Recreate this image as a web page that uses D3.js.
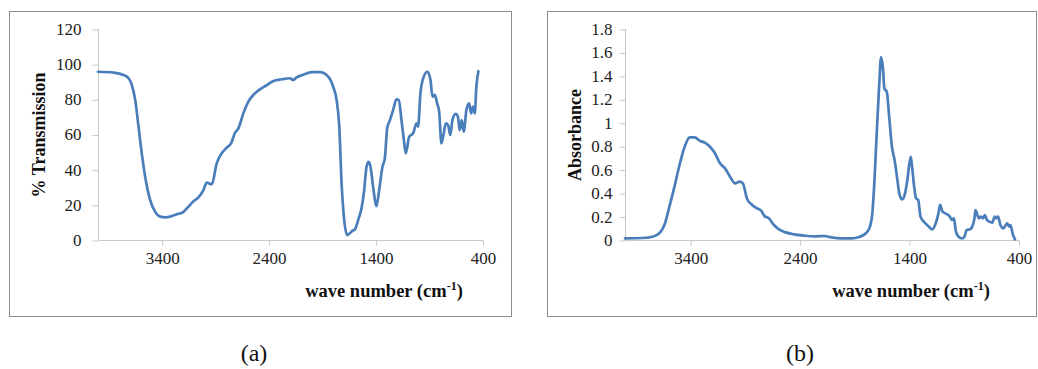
<!DOCTYPE html>
<html>
<head>
<meta charset="utf-8">
<script src="https://cdn.jsdelivr.net/npm/d3@7"></script>
<style>
  body { margin: 0; background: #fff; }
  svg { display: block; }
</style>
</head>
<body>
<div id="chart"></div>
<script>
/* Two FTIR spectra side by side: (a) % transmission, (b) absorbance */

// wave numbers (cm-1) and values
const waveA = [4000, 3854, 3761, 3714, 3683, 3652, 3621, 3590, 3559, 3512, 3465, 3419, 3372, 3310, 3263,
    3201, 3154, 3107, 3061, 3014, 2983, 2936, 2890, 2843, 2796, 2756, 2718, 2687, 2641, 2594, 2547, 2485,
    2423, 2360, 2283, 2205, 2174, 2143, 2080, 2003, 1925, 1847, 1800, 1769, 1744, 1722, 1701, 1670, 1645,
    1620, 1598, 1567, 1536, 1511, 1489, 1470, 1452, 1427, 1396, 1371, 1340, 1318, 1296, 1271, 1240, 1209,
    1187, 1162, 1140, 1122, 1090, 1053, 1022, 1007, 985, 954, 920, 891, 873, 851, 829, 810, 789, 767, 748,
    727, 705, 686, 655, 634, 618, 599, 580, 555, 530, 511, 493, 477, 462, 443];
const transmission = [95.7, 95.2, 93.8, 92, 88, 79.6, 64.5, 49, 36, 22.7, 16, 13.3, 12.9, 13.6, 14.6,
    16, 19, 22, 24.3, 28.4, 32.6, 31.7, 43.6, 49.3, 52.5, 55, 61, 63.5, 72, 78.7, 82.5, 85.7,
    88, 90.4, 91.4, 92, 91, 92.5, 94, 95.5, 95.5, 92.9, 87, 79.6, 64.5, 32, 13.3, 2.8, 3.8,
    5.3, 6, 11.4, 18, 28.4, 41.7, 44.5, 41.7, 30, 19.3, 28.4, 41.7, 46.4, 63.5, 68, 74, 80,
    79.6, 68, 57, 49.3, 58.8, 60.7, 66.4, 64.5, 83.4, 92.9, 95.7, 91, 81.5, 82.5, 77.7, 73, 55, 60.7, 66.4,
    65.4, 59.7, 68.2, 71.7, 70, 62.5, 68.2, 61.6, 74, 77.7, 72, 75.8, 72, 87.2, 96];

const waveB = [4000, 3840, 3748, 3686, 3640, 3594, 3548, 3502, 3455, 3409, 3363, 3317, 3271, 3224, 3178,
    3132, 3086, 3040, 2993, 2953, 2923, 2886, 2840, 2793, 2756, 2726, 2686, 2639, 2593, 2532, 2455, 2362,
    2270, 2177, 2116, 2023, 1931, 1854, 1793, 1762, 1740, 1722, 1700, 1678, 1660, 1645, 1629, 1608, 1586,
    1561, 1537, 1515, 1494, 1469, 1445, 1420, 1401, 1389, 1377, 1358, 1340, 1321, 1300, 1269, 1229, 1192,
    1161, 1136, 1121, 1099, 1062, 1032, 1013, 995, 976, 952, 921, 899, 878, 847, 822, 807, 798, 785, 767,
    748, 730, 711, 693, 668, 644, 622, 607, 591, 570, 545, 527, 508, 490, 477, 459, 437];
const absorbance = [0.014, 0.017, 0.028, 0.057, 0.128, 0.284, 0.455, 0.64, 0.796, 0.876, 0.876, 0.847, 0.83, 0.796, 0.74,
    0.654, 0.611, 0.54, 0.483, 0.498, 0.483, 0.355, 0.3, 0.27, 0.25, 0.205, 0.185, 0.128, 0.091, 0.065, 0.048, 0.037,
    0.031, 0.034, 0.023, 0.014, 0.014, 0.028, 0.063, 0.114, 0.227, 0.483, 0.91, 1.31, 1.56, 1.48, 1.29, 1.265, 1.05,
    0.796, 0.682, 0.54, 0.398, 0.347, 0.384, 0.512, 0.654, 0.71, 0.625, 0.455, 0.355, 0.341, 0.199, 0.156, 0.119, 0.091,
    0.142, 0.227, 0.3, 0.242, 0.222, 0.199, 0.171, 0.185, 0.071, 0.028, 0.014, 0.028, 0.085, 0.091, 0.128, 0.185, 0.256, 0.227, 0.185,
    0.199, 0.185, 0.213, 0.171, 0.156, 0.148, 0.199, 0.185, 0.199, 0.128, 0.1, 0.119, 0.142, 0.114, 0.128, 0.057, 0.006];

const xTicks = [3400, 2400, 1400, 400];
const yTicksA = [0, 20, 40, 60, 80, 100, 120];
const yTicksB = [0, 0.2, 0.4, 0.6, 0.8, 1, 1.2, 1.4, 1.6, 1.8];

const width = 1038, height = 369;
const blue = "#4a7ebb";
const serif = "Liberation Serif";

let svg = d3.select("#chart")
    .append("svg")
    .attr("width", width)
    .attr("height", height);

function panel(opt) {
    let g = svg.append("g");

    // outer frame
    g.append("rect")
        .attr("x", opt.frame[0] + 0.5)
        .attr("y", opt.frame[1] + 0.5)
        .attr("width", opt.frame[2])
        .attr("height", opt.frame[3])
        .attr("fill", "none")
        .attr("stroke", "#8c8c8c");

    let x = d3.scaleLinear()
        .domain([4000, 400])
        .range([opt.left, opt.right]);

    let y = d3.scaleLinear()
        .domain([0, opt.yMax])
        .range([240, 29]);

    // y axis
    let ya = g.append("g")
        .attr("transform", `translate(${opt.left + 0.5},0)`)
        .attr("font-family", serif)
        .attr("font-size", 17)
        .call(d3.axisLeft(y).tickValues(opt.yTicks).tickSize(6).tickPadding(opt.pad)
            .tickFormat(d => d3.format("~g")(d)));
    ya.attr("font-family", serif).attr("font-size", 17);
    ya.select(".domain").attr("stroke", "#c8c8c8").attr("d", `M0,${y(opt.yMax)}V240`);
    ya.selectAll(".tick line").attr("stroke", "#c8c8c8").attr("y1", 0.5).attr("y2", 0.5);
    ya.selectAll(".tick text").attr("fill", "#222");

    // x axis
    let xa = g.append("g")
        .attr("transform", `translate(0,240.5)`)
        .call(d3.axisBottom(x).tickValues(xTicks).tickSize(5).tickPadding(6)
            .tickFormat(d3.format("d")));
    xa.attr("font-family", serif).attr("font-size", 17);
    xa.select(".domain").attr("stroke", "#c8c8c8").attr("d", `M${opt.left},0H${opt.right}`);
    xa.selectAll(".tick line").attr("stroke", "#c8c8c8");
    xa.selectAll(".tick text").attr("fill", "#222");

    // spectrum
    let pts = opt.wave.map((w, i) => [w, opt.values[i]]);
    g.append("path")
        .datum(pts)
        .attr("fill", "none")
        .attr("stroke", blue)
        .attr("stroke-width", 2.7)
        .attr("stroke-linejoin", "round")
        .attr("stroke-linecap", "round")
        .attr("d", d3.line()
            .x(d => x(d[0]))
            .y(d => y(d[1]))
            .curve(d3.curveMonotoneX));

    // y title
    g.append("text")
        .attr("transform", `translate(${opt.yTitleX},135) rotate(-90)`)
        .attr("text-anchor", "middle")
        .attr("dominant-baseline", "central")
        .attr("font-family", serif)
        .attr("font-weight", "bold")
        .attr("font-size", 18)
        .attr("fill", "#111")
        .text(opt.yTitle);

    // x title with superscript
    let xt = g.append("text")
        .attr("x", opt.xTitleX)
        .attr("y", 297)
        .attr("text-anchor", "middle")
        .attr("font-family", serif)
        .attr("font-weight", "bold")
        .attr("font-size", 18.5)
        .attr("fill", "#111");
    xt.append("tspan").text("wave number (cm");
    xt.append("tspan").attr("dy", -7).attr("font-size", 12).text("-1");
    xt.append("tspan").attr("dy", 7).text(")");

    // caption
    svg.append("text")
        .attr("x", opt.capX)
        .attr("y", 361)
        .attr("text-anchor", "middle")
        .attr("font-family", serif)
        .attr("font-size", 24)
        .attr("fill", "#111")
        .text(opt.caption);
}

panel({
    frame: [9, 11, 502, 305],
    left: 98, right: 483, pad: 11,
    yMax: 120, yTicks: yTicksA,
    wave: waveA, values: transmission,
    yTitle: "% Transmission", yTitleX: 39,
    xTitleX: 384, capX: 254, caption: "(a)"
});

panel({
    frame: [547, 11, 489, 305],
    left: 625, right: 1019, pad: 7,
    yMax: 1.8, yTicks: yTicksB,
    wave: waveB, values: absorbance,
    yTitle: "Absorbance", yTitleX: 575,
    xTitleX: 911, capX: 800, caption: "(b)"
});
</script>
</body>
</html>
